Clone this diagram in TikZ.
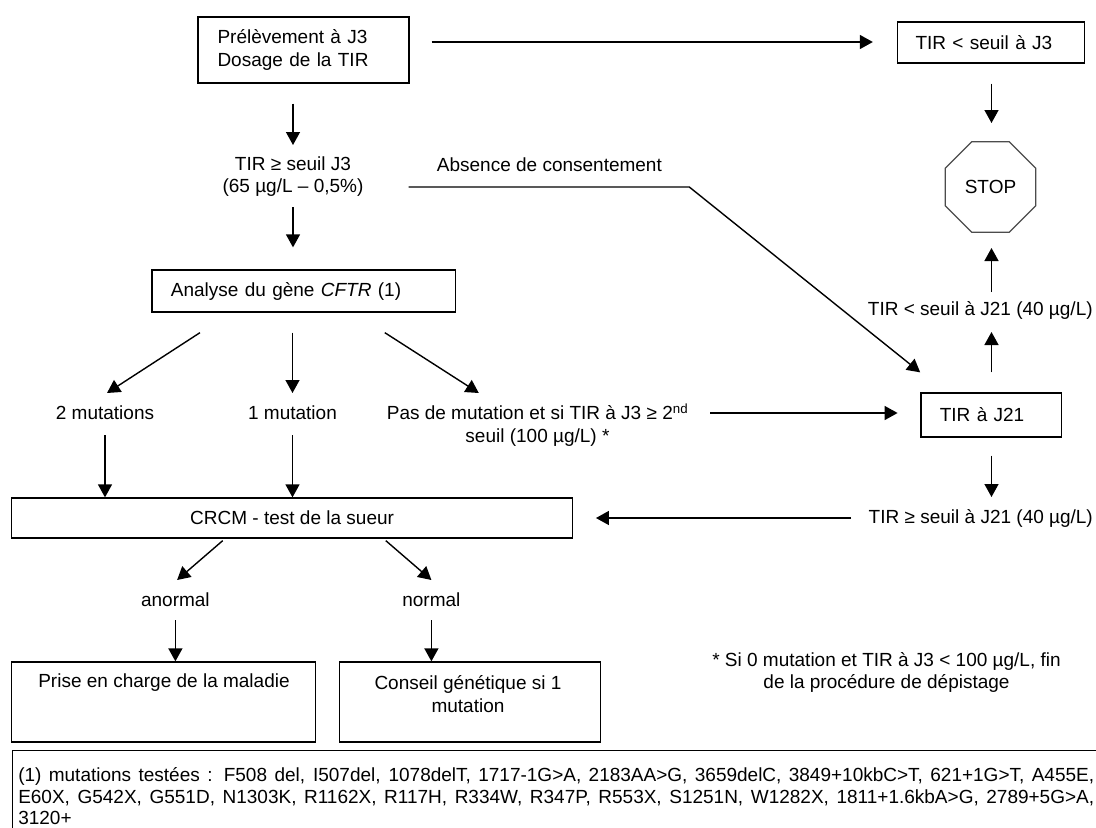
\documentclass[tikz,border=0pt]{standalone}
\usepackage{fontspec}
\setmainfont{Liberation Sans}
\usetikzlibrary{arrows.meta}
\usetikzlibrary{calc}
\usetikzlibrary{positioning}
\usetikzlibrary{shapes.geometric}

\begin{document}
\begin{tikzpicture}[x=1pt, y=-1pt,
    every node/.style={font=\fontsize{19}{22.5}\selectfont, inner sep=0pt},
    box/.style={draw, line width=1.3pt},
    arr/.style={line width=1.4pt, -{Triangle[length=13pt, width=14pt]}}]
      \useasboundingbox (0, 0) rectangle (1096, 828);
      \clip (0, 0) rectangle (1096, 828);

      \node [box, minimum width=211pt, minimum height=66pt, text width=172pt, inner xsep=19.5pt, align=left] (prel) at (303.5, 50) {Prélèvement à J3\\Dosage de la TIR};
      \node [box, minimum width=187pt, minimum height=41pt, text width=151pt, inner xsep=18pt, align=left] (j3low) at (991, 42.5) {TIR < seuil à J3};
      \node [draw=black!70, line width=1.3pt, regular polygon, regular polygon sides=8, minimum size=98pt] (stop) at (990.5, 187) {STOP};
      \node [align=center] (seuilJ3) at (293, 176.5) {TIR ≥ seuil J3\\(65 µg/L – 0,5\%)};
      \node [anchor=west] (absence) at (436.7, 165) {Absence de consentement};
      \node [box, minimum width=303.4pt, minimum height=42pt, text width=265.4pt, inner xsep=19pt, align=left] (cftr) at (303.6, 291) {Analyse du gène \textit{CFTR} (1)};

      \node (deux) at (105, 413) {2 mutations};
      \node (une) at (292.5, 413) {1 mutation};
      \node [align=center] (pas) at (537.5, 425) {Pas de mutation et si TIR à J3 ≥ 2\textsuperscript{nd}\\seuil (100 µg/L) *};
      \node [box, minimum width=140.3pt, minimum height=44pt, text width=102.3pt, inner xsep=19pt, align=left] (j21) at (991, 415) {TIR à J21};
      \node (j21low) at (980.3, 310) {TIR < seuil à J21 (40 µg/L)};
      \node (j21high) at (980.8, 518) {TIR ≥ seuil à J21 (40 µg/L)};

      \node [box, minimum width=561pt, minimum height=40pt] (crcm) at (292.1, 518) {CRCM - test de la sueur};
      \node (anormal) at (175.4, 600) {anormal};
      \node (normal) at (431.4, 600) {normal};
      \node [box, minimum width=304pt, minimum height=80pt] (prise) at (163.65, 702) {};
      \node (priseT) at (164, 683) {Prise en charge de la maladie};
      \node [box, minimum width=261.3pt, minimum height=80pt] (conseil) at (469.85, 702) {};
      \node [align=center] (conseilT) at (468, 694) {Conseil génétique si 1\\mutation};
      \node [align=center] (note) at (886.5, 672.5) {* Si 0 mutation et TIR à J3 < 100 µg/L, fin\\de la procédure de dépistage};

      \node [box, anchor=north west, text width=1076pt, inner xsep=6pt, inner ysep=17pt, align=justify, font=\fontsize{19}{21.5}\selectfont] (mutlist) at (11.6, 750) {(1) mutations testées : F508 del, I507del, 1078delT, 1717-1G>A, 2183AA>G, 3659delC, 3849+10kbC>T, 621+1G>T, A455E,\linebreak E60X, G542X, G551D, N1303K, R1162X, R117H, R334W, R347P, R553X, S1251N, W1282X, 1811+1.6kbA>G, 2789+5G>A,\linebreak 3120+};

      \coordinate (absstart) at (408.6, 187);
      \coordinate (absbend) at (689.3, 187);

      \draw [arr] ($(prel.east)+(22, -8)$) -- ($(j3low.west)+(-24, -0.5)$);
      \draw [arr] ($(j3low.south)+(0.5, 20)$) -- ($(stop.center)+(1, -64)$);
      \draw [arr] ($(seuilJ3 |- prel.south)+(0, 20)$) -- ($(seuilJ3.center)+(0, -31.5)$);
      \draw [arr] ($(seuilJ3.center)+(0, 30.5)$) -- ($(seuilJ3 |- cftr.north)+(0, -22)$);
      \draw [arr] (absstart) -- (absbend) -- ($(j21.north west)+(0, -20)$);

      \draw [arr] ($(cftr.south)+(-103.6, 20)$) -- ($(deux.center)+(2, -20)$);
      \draw [arr] ($(une |- cftr.south)+(0, 20)$) -- ($(une.center)+(0, -20)$);
      \draw [arr] ($(cftr.south)+(81.2, 20)$) -- ($(pas.center)+(-58.7, -32)$);
      \draw [arr] ($(pas.center)+(172.5, -12)$) -- ($(j21.west)+(-22.6, -2)$);

      \draw [arr] ($(j21.north)+(0.5, -20)$) -- ($(j21.north |- j21low.center)+(0.5, 22)$);
      \draw [arr] ($(j21.north |- j21low.center)+(0.5, -18)$) -- ($(stop.center)+(1, 61)$);
      \draw [arr] ($(j21.south)+(0.5, 18)$) -- ($(j21.south |- j21high.center)+(0.5, -21)$);
      \draw [arr] ($(j21high.west)+(-17.4, 0)$) -- ($(crcm.east)+(22.7, 0)$);

      \draw [arr] ($(deux.center)+(0, 22)$) -- (deux |- crcm.north);
      \draw [arr] ($(une.center)+(0, 22)$) -- (une |- crcm.north);
      \draw [arr] ($(crcm.south)+(-69.4, 2)$) -- ($(anormal.center)+(1.7, -20)$);
      \draw [arr] ($(crcm.south)+(93.7, 2)$) -- ($(normal.center)+(0, -20)$);
      \draw [arr] ($(anormal.center)+(0, 20)$) -- (anormal |- prise.north);
      \draw [arr] ($(normal.center)+(0, 20)$) -- (normal |- conseil.north);
    \end{tikzpicture}
\end{document}
